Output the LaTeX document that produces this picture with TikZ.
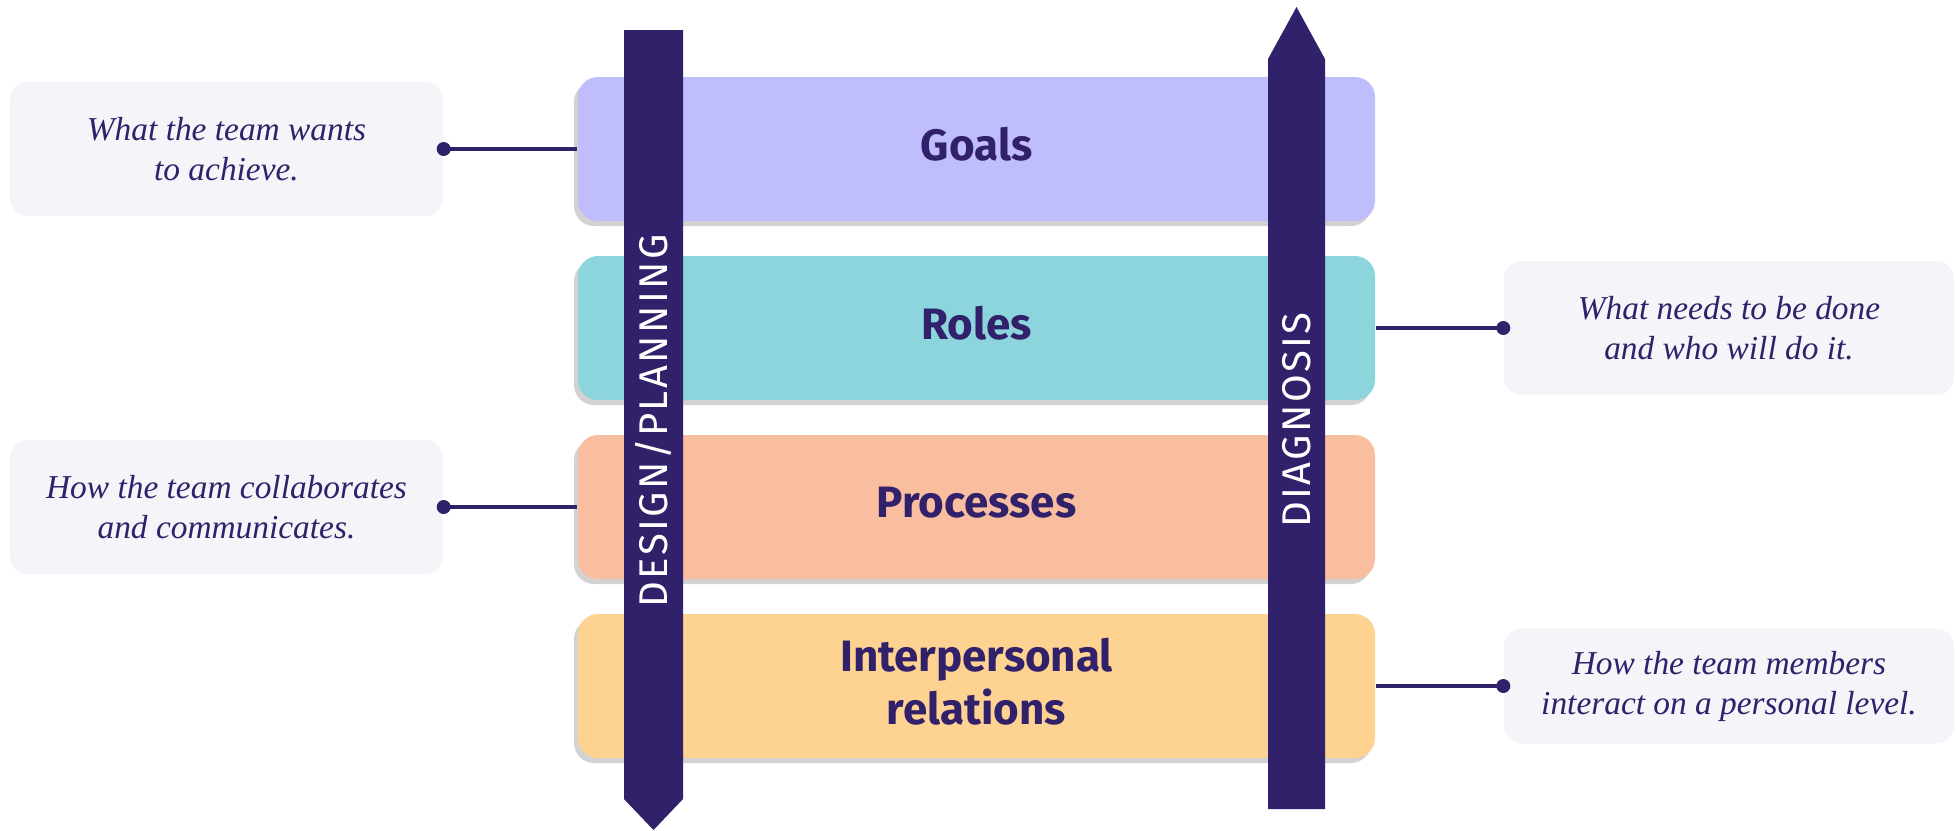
\documentclass[tikz,border=0pt]{standalone}
\usepackage{fontspec}
\setmainfont{Liberation Serif}
\newfontfamily\headfont{Fira Sans}
\newfontfamily\barfont[LetterSpace=6]{Fira Sans}
\usetikzlibrary{positioning,shadows}
\definecolor{ink}{RGB}{49,32,106}
\definecolor{goalcol}{RGB}{191,189,252}
\definecolor{rolecol}{RGB}{140,213,220}
\definecolor{proccol}{RGB}{249,190,160}
\definecolor{relcol}{RGB}{254,210,144}
\definecolor{notecol}{RGB}{244,245,249}

\begin{document}
\begin{tikzpicture}[on grid, node distance=1.79cm,
    layer/.style={rounded corners=0.2cm, minimum width=7.97cm, minimum height=1.44cm,
      align=center, text=ink, text depth=0.1cm, font=\headfont\bfseries\fontsize{12.5}{15}\selectfont,
      drop shadow={shadow xshift=-0.04cm, shadow yshift=-0.05cm, opacity=0.22, fill=black!80}},
    note/.style={fill=notecol, rounded corners=0.18cm, minimum height=1.34cm,
      align=center, text=ink, font=\itshape\fontsize{9.5}{11.4}\selectfont},
    link/.style={draw=ink, line width=0.9pt},
    dot/.style={circle, fill=ink, inner sep=0pt, minimum size=0.14cm},
    bartext/.style={rotate=90, text=white, font=\barfont\fontsize{11.4}{13}\selectfont}]
  \useasboundingbox (0,0) rectangle (19.57,8.30);

  \node[layer, fill=goalcol] (goals) at (9.765,6.81) {Goals};
  \node[layer, fill=rolecol, below=of goals] (roles) {Roles};
  \node[layer, fill=proccol, below=of roles] (procs) {Processes};
  \node[layer, fill=relcol, below=of procs] (rels) {Interpersonal\\relations};

  \node[note, minimum width=4.33cm, left=7.5cm of goals] (goalsnote) {What the team wants\\to achieve.};
  \node[note, minimum width=4.5cm, right=7.525cm of roles] (rolesnote) {What needs to be done\\and who will do it.};
  \node[note, minimum width=4.33cm, left=7.5cm of procs] (procsnote) {How the team collaborates\\and communicates.};
  \node[note, minimum width=4.5cm, minimum height=1.15cm, right=7.525cm of rels] (relsnote) {How the team members\\interact on a personal level.};

  \path[link] (goalsnote.east) -- (goals.west);
  \path[link] (roles.east) -- (rolesnote.west);
  \path[link] (procsnote.east) -- (procs.west);
  \path[link] (rels.east) -- (rels.east -| relsnote.west);
  \node[dot] at (goalsnote.east) {};
  \node[dot] at (rolesnote.west) {};
  \node[dot] at (procsnote.east) {};
  \node[dot] at (rels.east -| relsnote.west) {};

  \fill[ink] (6.24,8.00) -- (6.83,8.00) -- (6.83,0.31) -- (6.535,0.0) -- (6.24,0.31) -- cycle;
  \fill[ink] (12.68,0.21) -- (13.25,0.21) -- (13.25,7.71) -- (12.965,8.23) -- (12.68,7.71) -- cycle;
  \node[bartext] (design) at (6.535,4.09) {DESIGN/PLANNING};
  \node[bartext] (diagnosis) at (12.965,4.10) {DIAGNOSIS};
\end{tikzpicture}
\end{document}
